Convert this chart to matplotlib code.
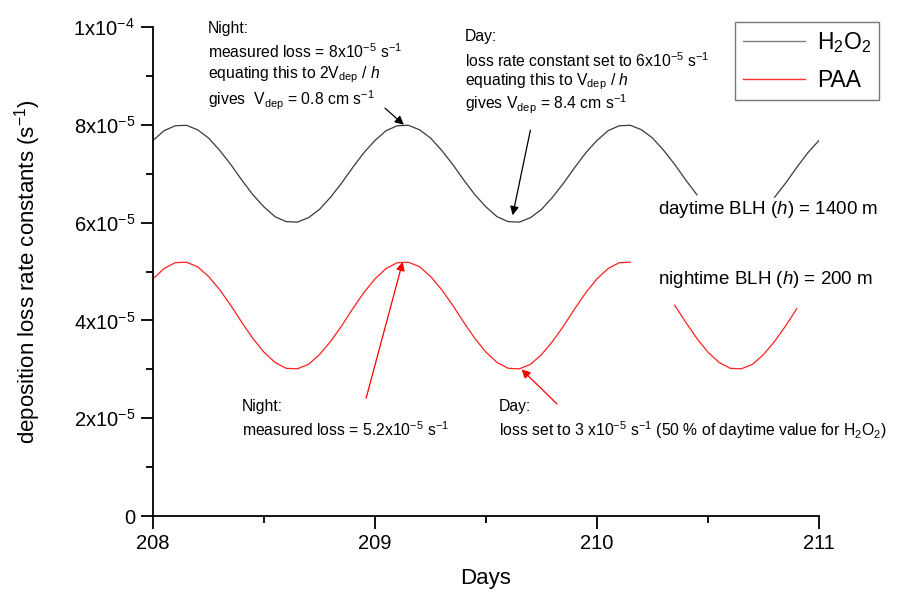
import numpy as np
import matplotlib
matplotlib.use("Agg")
import matplotlib.pyplot as plt
from matplotlib.lines import Line2D

plt.rcParams["font.family"] = ["Liberation Sans", "DejaVu Sans"]
plt.rcParams["mathtext.fontset"] = "custom"
plt.rcParams["mathtext.rm"] = "Liberation Sans"
plt.rcParams["mathtext.it"] = "Liberation Sans:italic"
plt.rcParams["mathtext.default"] = "regular"

# time axis, every 0.05 day (1.2 h)
days = np.linspace(208.0, 211.0, 61)

# deposition loss rate constants, units of 1e-5 s-1 (nan = gap left for labels)
h2o2 = [
    7.68, 7.88, 7.98, 7.99, 7.90, 7.73, 7.48, 7.19, 6.87, 6.57,
    6.32, 6.12, 6.02, 6.01, 6.10, 6.27, 6.52, 6.81, 7.13, 7.43,
    7.68, 7.88, 7.98, 7.99, 7.90, 7.73, 7.48, 7.19, 6.87, 6.57,
    6.32, 6.12, 6.02, 6.01, 6.10, 6.27, 6.52, 6.81, 7.13, 7.43,
    7.68, 7.88, 7.98, 7.99, 7.90, 7.73, 7.48, 7.19, 6.87, 6.57,
    np.nan, np.nan, np.nan, np.nan, np.nan, np.nan, 6.52, 6.81, 7.13, 7.43,
    7.68,
]
paa = [
    4.85, 5.06, 5.18, 5.19, 5.10, 4.90, 4.63, 4.31, 3.96, 3.63,
    3.35, 3.14, 3.02, 3.01, 3.10, 3.30, 3.57, 3.89, 4.24, 4.57,
    4.85, 5.06, 5.18, 5.19, 5.10, 4.90, 4.63, 4.31, 3.96, 3.63,
    3.35, 3.14, 3.02, 3.01, 3.10, 3.30, 3.57, 3.89, 4.24, 4.57,
    4.85, 5.06, 5.18, 5.19, np.nan, np.nan, np.nan, 4.31, 3.96, 3.63,
    3.35, 3.14, 3.02, 3.01, 3.10, 3.30, 3.57, 3.89, 4.24, np.nan,
    np.nan,
]

x_ticks = [208, 209, 210, 211]
y_ticks = [0, 2e-5, 4e-5, 6e-5, 8e-5, 1e-4]
y_tick_labels = ["0", "2x10$^{-5}$", "4x10$^{-5}$", "6x10$^{-5}$",
                 "8x10$^{-5}$", "1x10$^{-4}$"]

W, H = 903, 599
fig = plt.figure(figsize=(W / 100, H / 100), dpi=100)
ax = fig.add_axes([153 / W, 1 - 516 / H, (819 - 153) / W, (516 - 27) / H])

scale = 1e-5
ax.plot(days, np.array(h2o2) * scale, color="#3a3a3a", lw=0.9)
ax.plot(days, np.array(paa) * scale, color="#ff2020", lw=0.9)

ax.set_xlim(208, 211)
ax.set_ylim(0, 1e-4)
ax.set_xticks(x_ticks)
ax.set_xticks([208.5, 209.5, 210.5], minor=True)
ax.set_yticks(y_ticks)
ax.set_yticklabels(y_tick_labels)
ax.set_yticks([1e-5, 3e-5, 5e-5, 7e-5, 9e-5], minor=True)
for s in ("top", "right"):
    ax.spines[s].set_visible(False)
for s in ("left", "bottom"):
    ax.spines[s].set_linewidth(1.3)
ax.tick_params(which="major", direction="out", length=9, width=1.3,
               labelsize=14.5, pad=4)
ax.tick_params(which="minor", direction="out", length=5, width=1.3)

ax.set_xlabel("Days", fontsize=16, labelpad=11)
ax.set_ylabel("deposition loss rate constants (s$^{-1}$)", fontsize=16,
              labelpad=22)

# legend
handles = [Line2D([], [], color="#808080", lw=1.0),
           Line2D([], [], color="#ff3030", lw=1.0)]
leg = ax.legend(handles, ["H$_2$O$_2$", "PAA"], loc="upper right",
                bbox_to_anchor=(879 / W, 1 - 22 / H),
                bbox_transform=fig.transFigure, fontsize=16.5, frameon=True,
                fancybox=False, handlelength=2.7, handletextpad=0.5,
                borderpad=0.35, labelspacing=0.6, borderaxespad=0)
leg.get_frame().set_edgecolor("#555555")
leg.get_frame().set_linewidth(1.0)


def put(x, y, s, size=11.3):
    fig.text(x / W, 1 - y / H, s, fontsize=size, ha="left", va="center")


# H2O2 notes
put(208, 29, "Night:")
put(208, 52, "measured loss = 8x10$^{-5}$ s$^{-1}$")
put(208, 75, "equating this to 2V$_{dep}$ / $\\mathit{h}$")
put(208, 100, "gives  V$_{dep}$ = 0.8 cm s$^{-1}$")

put(465, 36, "Day:")
put(465, 61, "loss rate constant set to 6x10$^{-5}$ s$^{-1}$")
put(465, 82, "equating this to V$_{dep}$ / $\\mathit{h}$")
put(465, 104, "gives V$_{dep}$ = 8.4 cm s$^{-1}$")

put(658, 210, "daytime BLH ($\\mathit{h}$) = 1400 m", size=13.5)
put(658, 280, "nightime BLH ($\\mathit{h}$) = 200 m", size=13.5)

# PAA notes
put(242, 407, "Night:")
put(242, 430, "measured loss = 5.2x10$^{-5}$ s$^{-1}$")
put(499, 407, "Day:")
put(499, 430, "loss set to 3 x10$^{-5}$ s$^{-1}$ (50 % of daytime value for "
              "H$_2$O$_2$)")

# arrows pointing to the peaks / troughs
def arrow(tip, tail, color):
    ax.annotate("", xy=tip, xytext=tail,
                arrowprops=dict(arrowstyle="-|>", color=color, lw=0.9,
                                mutation_scale=13, shrinkA=0, shrinkB=0))


arrow((209.13, 8.0e-5), (209.045, 8.34e-5), "black")
arrow((209.62, 6.15e-5), (209.70, 7.89e-5), "black")
arrow((209.125, 5.2e-5), (208.96, 2.41e-5), "red")
arrow((209.66, 3.0e-5), (209.82, 2.29e-5), "red")

fig.savefig("out.png", dpi=100)
